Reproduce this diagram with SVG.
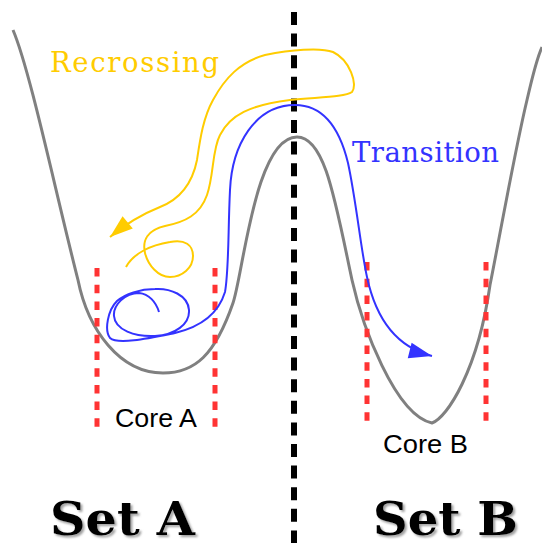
<svg xmlns="http://www.w3.org/2000/svg" width="542" height="543" viewBox="0 0 542 543">
<style>
.energy{fill:none;stroke:#808080;stroke-width:3}
.core{fill:none;stroke:#ff3333;stroke-width:5;stroke-dasharray:8.5,8.2}
.divide{fill:none;stroke:#000;stroke-width:6;stroke-dasharray:13,8.6}
.traj{fill:none;stroke-width:2}
.lbl{font-family:"DejaVu Serif",serif;font-size:27.5px}
.core-lbl{font-family:"Liberation Sans",Arial,sans-serif;font-size:25.5px;fill:#000}
.set{font-family:"DejaVu Serif",serif;font-weight:bold;font-size:47px;fill:#000}
</style>
<defs>
<marker id="arrB" markerUnits="userSpaceOnUse" markerWidth="26" markerHeight="20" refX="23" refY="0" orient="auto" overflow="visible"><path d="M0,-8 L23,0 L0,8 z" fill="#3333ff"/></marker>
<marker id="arrY" markerUnits="userSpaceOnUse" markerWidth="26" markerHeight="20" refX="23" refY="0" orient="auto" overflow="visible"><path d="M0,-8 L23,0 L0,8 z" fill="#ffcc00"/></marker>
<filter id="shadow" x="-10%" y="-10%" width="130%" height="130%"><feDropShadow dx="2" dy="2" stdDeviation="1" flood-color="#777" flood-opacity="0.7"/></filter>
</defs>
<g id="landscape">
<path class="energy" d="M13,30 C30,70 55,190 78,280 C88,330 120,373 163,373 C195,373 215,355 233,303 C243,275 255,137 297,137 C325,137 335,200 352,280 C362,325 395,415 432,423 C447,418 478,370 490,285 C500,235 515,150 527,100 C532,78 537,58 542,47"/>
</g>
<g id="divider">
<line class="divide" x1="294" y1="12" x2="294" y2="543"/>
</g>
<g id="coreA">
<line class="core" x1="97" y1="268" x2="97" y2="432"/>
<line class="core" x1="215" y1="268" x2="215" y2="432"/>
<text class="core-lbl" x="115" y="427" textLength="82" lengthAdjust="spacingAndGlyphs">Core A</text>
</g>
<g id="coreB">
<line class="core" x1="367" y1="262" x2="367" y2="427"/>
<line class="core" x1="486" y1="262" x2="486" y2="427"/>
<text class="core-lbl" x="383" y="453" textLength="85" lengthAdjust="spacingAndGlyphs">Core B</text>
</g>
<g id="connectors">
<path id="recrossing" class="traj" stroke="#ffcc00" marker-end="url(#arrY)" d="M126,267 C133,254 150,245 170,242 C185,239 193,245 193,256 C193,268 182,277 170,277 C158,277 148,265 145,253 C142,240 148,230 165,226 C185,222 200,215 207,195 C214,175 212,150 220,135 C230,115 250,105 290,100 C320,97 345,97 352,92 C358,85 350,60 333,52 C320,47 290,50 265,55 C240,62 225,78 213,100 C203,118 200,140 197,160 C193,180 183,198 160,207 C145,213 128,222 110,237"/>
<path id="transition" class="traj" stroke="#3333ff" marker-end="url(#arrB)" d="M159,312 C156,302 149,294 139,293 C125,293 113,305 114,316 C115,330 135,337 155,336 C175,335 190,324 189,310 C188,295 170,288 155,289 C140,289 125,294 117,301 C108,310 104,330 110,338 C118,345 150,338 175,333 C200,327 218,315 225,292 C229,270 228,230 230,190 C232,145 255,105 295,105 C325,105 340,130 348,163 C356,200 361,250 367,277 C373,305 388,345 432,356"/>
</g>
<g id="labels">
<text class="lbl" x="50" y="72" fill="#ffcc00" textLength="169" lengthAdjust="spacing">Recrossing</text>
<text class="lbl" x="352" y="162" fill="#3333ff" textLength="147" lengthAdjust="spacing">Transition</text>
</g>
<g id="setA"><text class="set" x="50" y="535" filter="url(#shadow)" textLength="145" lengthAdjust="spacingAndGlyphs">Set A</text></g>
<g id="setB"><text class="set" x="373" y="535" filter="url(#shadow)" textLength="145" lengthAdjust="spacingAndGlyphs">Set B</text></g>
</svg>
